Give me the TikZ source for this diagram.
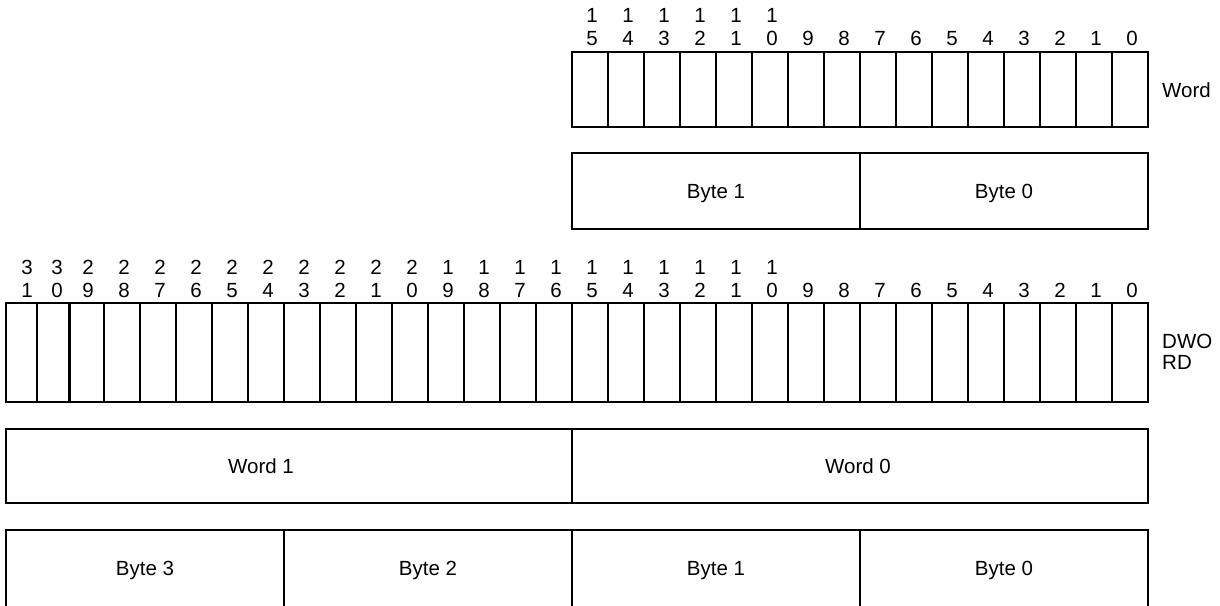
\documentclass[tikz,border=0pt]{standalone}
\usepackage{fontspec}
\setmainfont{Liberation Sans}
\begin{document}
\begin{tikzpicture}[x=1pt,y=-1pt,
  cell/.style={draw,line width=2.4pt},
  lbl/.style={font=\fontsize{20.5}{22}\selectfont, inner sep=0pt, anchor=base},
  side/.style={font=\fontsize{20.5}{20.5}\selectfont, inner sep=0pt, anchor=west, align=left}]
\useasboundingbox (0,0) rectangle (1220,605);
\clip (0,0) rectangle (1220,605);
\fill[white] (0,0) rectangle (1220,605);

% ---- Word (16 bits)
\draw[cell] (572,52) rectangle (1148,127);
\foreach \k in {1,...,15} { \draw[cell] ({1148-36*\k},52) -- ({1148-36*\k},127); }
\foreach \b in {0,...,9} { \node[lbl] (w\b) at ({1132-36*\b},45) {\b}; }
\foreach \b in {10,...,15} {
  \pgfmathtruncatemacro\u{\b-10}
  \node[lbl] (w\b) at ({1132-36*\b},45) {\u};
  \node[lbl] (wt\b) at ({1132-36*\b},23) {1};
}
\node[side] (wordlbl) at (1162,90) {Word};

% ---- Byte 1 / Byte 0
\draw[cell] (572,153) rectangle (860,229);
\draw[cell] (860,153) rectangle (1148,229);
\node[lbl] (tb1) at (716,198) {Byte 1};
\node[lbl] (tb0) at (1004,198) {Byte 0};

% ---- DWORD (32 bits)
\draw[cell] (6,303) rectangle (1148,402);
\foreach \k in {1,...,29} { \draw[cell] ({1148-36*\k},303) -- ({1148-36*\k},402); }
\draw[cell] (69.5,303) -- (69.5,402);
\draw[cell] (37,303) -- (37,402);
\foreach \b in {0,...,31} {
  \pgfmathsetmacro\xx{\b==31 ? 27 : (\b==30 ? 57 : 1132-36*\b)}
  \pgfmathtruncatemacro\u{mod(\b,10)}
  \pgfmathtruncatemacro\t{div(\b,10)}
  \node[lbl] (d\b) at (\xx,297) {\u};
  \ifnum\b>9 \node[lbl] (dt\b) at (\xx,274) {\t}; \fi
}
\node[side] (dwordlbl) at (1162,352) {DWO\\RD};

% ---- Word 1 / Word 0
\draw[cell] (6,429) rectangle (572,503);
\draw[cell] (572,429) rectangle (1148,503);
\node[lbl] (ww1) at (261,473) {Word 1};
\node[lbl] (ww0) at (858,473) {Word 0};

% ---- Byte 3..0
\draw[cell] (6,530) rectangle (284,608);
\draw[cell] (284,530) rectangle (572,608);
\draw[cell] (572,530) rectangle (860,608);
\draw[cell] (860,530) rectangle (1148,608);
\node[lbl] (b3) at (145,575) {Byte 3};
\node[lbl] (b2) at (428,575) {Byte 2};
\node[lbl] (b1) at (716,575) {Byte 1};
\node[lbl] (b0) at (1004,575) {Byte 0};
\end{tikzpicture}
\end{document}
